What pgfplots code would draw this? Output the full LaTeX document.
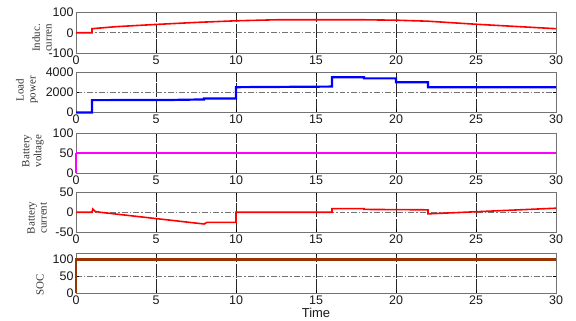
\documentclass[border=0pt]{standalone}
\usepackage{pgfplots}
\pgfplotsset{compat=1.18}
\usepackage{fontspec}
\setmainfont{Liberation Serif}
\newfontfamily\arial{Liberation Sans}
\definecolor{socbrown}{RGB}{153,51,0}
\definecolor{mag}{RGB}{255,0,255}
\pgfplotsset{sub/.style={
  width=480bp, height=40.5bp, scale only axis, anchor=north west,
  xmin=0, xmax=30, xtick={0,5,...,30}, clip=false,
  axis line style={draw=black!55, line width=0.8pt},
  tick style={black, line width=0.5pt}, tick align=inside, major tick length=3bp,
  xmajorgrids, ymajorgrids,
  x grid style={black!85, line width=0.6pt, dash pattern=on 14pt off 1.5pt},
  y grid style={black!55, line width=0.6pt, dash pattern=on 6pt off 2pt on 1.5pt off 2pt},
  ticklabel style={font=\arial\fontsize{12.5}{12.5}\selectfont, text=black!90},
  /pgf/number format/assume math mode=true,
  /pgf/number format/1000 sep={},
  scaled y ticks=false,
  yticklabel style={xshift=1bp},
  xticklabel style={yshift=1bp},
}}
\begin{document}
\begin{tikzpicture}
\useasboundingbox (0,0) rectangle (576bp,321bp);
% 1 Inductor current
\begin{axis}[sub, at={(76bp,308.5bp)}, ymin=-100, ymax=100, ytick={-100,0,100}]
\addplot[red, line width=1.6pt] coordinates {(0,0)(1,0)(1,20)(2.5,30)(5,41)(7.5,51)(10,59)(12.5,64)(15,64)(18,64)(20,62)(22,57)(25,42)(27.5,31)(30,20)};
\end{axis}
% 2 Load power
\begin{axis}[sub, at={(76bp,249bp)}, ymin=0, ymax=4000, ytick={0,2000,4000}]
\addplot[blue, line width=2.2pt] coordinates {(0,0)(1,0)(1,1220)(6,1240)(8,1290)(8,1380)(10,1380)(10,2500)(16,2560)(16,3490)(18,3490)(18,3370)(20,3370)(20,2980)(22,2980)(22,2500)(30,2500)};
\end{axis}
% 3 Battery voltage
\begin{axis}[sub, at={(76bp,188bp)}, ymin=0, ymax=100, ytick={0,50,100}]
\addplot[mag, line width=1.5pt] coordinates {(0,0)(0,50)};
\addplot[mag, line width=1.6pt] coordinates {(0,50)(10.5,50)};
\addplot[mag, line width=2.4pt] coordinates {(2,50)(4,50)};
\addplot[mag, line width=2.4pt] coordinates {(10.3,50)(30,50)};
\end{axis}
% 4 Battery current
\begin{axis}[sub, at={(76bp,129bp)}, ymin=-50, ymax=50, ytick={-50,0,50}]
\addplot[red, line width=1.6pt] coordinates {(0,0)(1,0)(1.05,8)(1.2,2)(1.5,0)(8,-29)(8.2,-25)(10,-25)(10,0)(16,0)(16,9)(18,9)(18,7)(22,6)(22,-4)(30,10)};
\end{axis}
% 5 SOC
\begin{axis}[sub, at={(76bp,68bp)}, height=40bp, ymin=0, ymax=118, ytick={0,50,100}]
\addplot[socbrown, line width=3pt] coordinates {(0,0)(0,100)(30,100)};
\end{axis}
% y labels
\begin{scope}[every node/.style={rotate=90, align=center, font=\fontsize{11}{12}\selectfont, text=black!80}]
\node at (42bp,283bp) {Induc.\\curren};
\node at (27bp,231bp) {Load\\power};
\node at (33bp,170bp) {Battery\\voltage};
\node at (37bp,103bp) {Battery\\current};
\node at (40bp,36bp) {SOC};
\end{scope}
\node[font=\arial\fontsize{13}{13}\selectfont, text=black!90] at (316bp,8bp) {Time};
\end{tikzpicture}
\end{document}
